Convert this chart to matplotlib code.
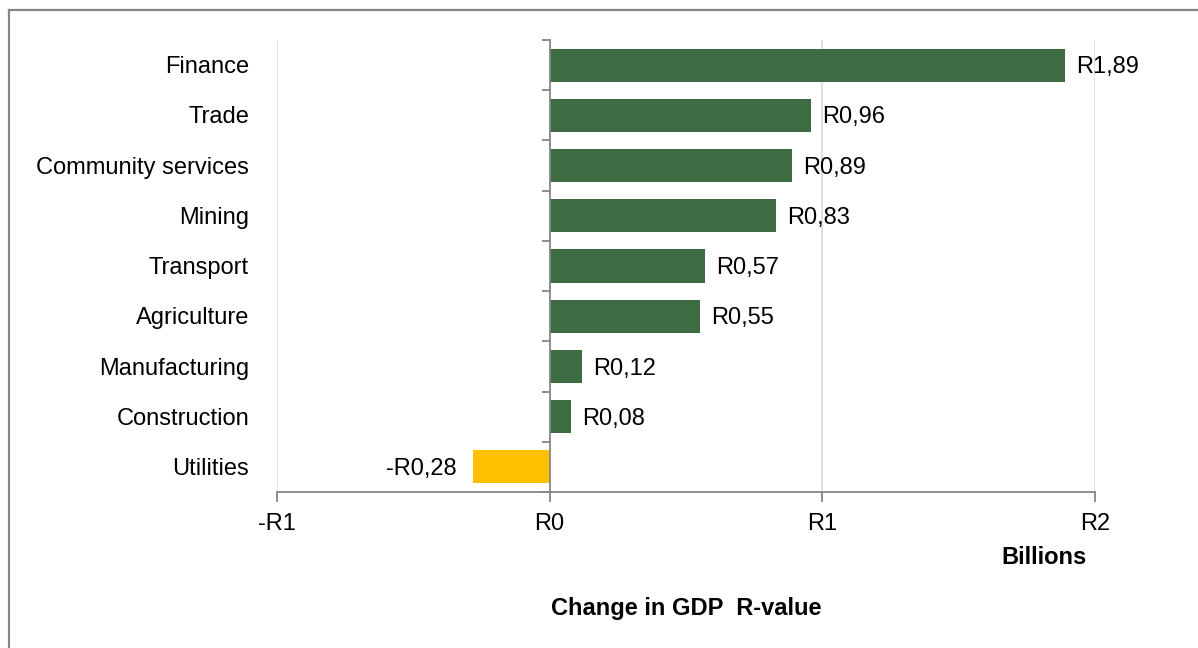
import matplotlib.pyplot as plt
from matplotlib.transforms import blended_transform_factory, offset_copy
from matplotlib.lines import Line2D

plt.rcParams['font.family'] = ['Liberation Sans', 'DejaVu Sans']

sectors = ["Finance", "Trade", "Community services", "Mining", "Transport",
           "Agriculture", "Manufacturing", "Construction", "Utilities"]
change_bn = [1.89, 0.96, 0.89, 0.83, 0.57, 0.55, 0.12, 0.08, -0.28]
value_labels = ["R1,89", "R0,96", "R0,89", "R0,83", "R0,57", "R0,55",
                "R0,12", "R0,08", "-R0,28"]
x_ticks = [-1, 0, 1, 2]
x_tick_labels = ["-R1", "R0", "R1", "R2"]

GREEN = "#3d6b42"
YELLOW = "#ffc000"
GRID = "#d9d9d9"
AXIS = "#868686"
FS = 17

fig = plt.figure(figsize=(11.98, 6.48), dpi=100)
ax = fig.add_axes([277 / 1198, 1 - 492 / 648, 818 / 1198, 452 / 648])

n = len(sectors)
ypos = list(range(n))
colors = [YELLOW if v < 0 else GREEN for v in change_bn]
ax.barh(ypos, change_bn, height=0.66, color=colors, zorder=3)

ax.set_xlim(-1, 2)
ax.set_ylim(n - 0.5, -0.5)

ax.set_xticks(x_ticks)
ax.set_xticklabels(x_tick_labels, fontsize=FS)
ax.tick_params(axis='x', length=7, width=1.3, color=AXIS, pad=8)
for x in [-1, 1, 2]:
    ax.axvline(x, color=GRID, lw=1.2, zorder=1)

# y axis sits at zero with ticks between categories
ax.spines['left'].set_position(('data', 0))
ax.spines['left'].set_color(AXIS)
ax.spines['left'].set_linewidth(1.3)
ax.spines['left'].set_zorder(4)
ax.set_yticks([i - 0.5 for i in range(n + 1)])
ax.set_yticklabels([])
ax.tick_params(axis='y', length=6, width=1.3, color=AXIS)
ax.spines['bottom'].set_color(AXIS)
ax.spines['bottom'].set_linewidth(1.3)
ax.spines['top'].set_visible(False)
ax.spines['right'].set_visible(False)

tr = blended_transform_factory(ax.transAxes, ax.transData)
tr = offset_copy(tr, fig=fig, y=-1.5, units='points')
for y, name in zip(ypos, sectors):
    ax.text(-28 / 818, y, name, transform=tr, ha='right', va='center', fontsize=FS)

for y, v, lab in zip(ypos, change_bn, value_labels):
    if v >= 0:
        ax.annotate(lab, (v, y), xytext=(8, -1.5), textcoords='offset points',
                    ha='left', va='center', fontsize=FS)
    else:
        ax.annotate(lab, (v, y), xytext=(-12, -1.5), textcoords='offset points',
                    ha='right', va='center', fontsize=FS)

fig.text(1044 / 1198, 1 - 558 / 648, "Billions", ha='center', va='center',
         fontsize=FS, fontweight='bold')
fig.text(686 / 1198, 1 - 608 / 648, "Change in GDP  R-value", ha='center',
         va='center', fontsize=FS, fontweight='bold')

# outer chart frame
fig.add_artist(Line2D([9 / 1198, 1], [1 - 10 / 648, 1 - 10 / 648],
                      transform=fig.transFigure, color=AXIS, lw=1.6))
fig.add_artist(Line2D([9 / 1198, 9 / 1198], [1 - 10 / 648, 0],
                      transform=fig.transFigure, color=AXIS, lw=1.6))

fig.savefig("out.png", dpi=100)
